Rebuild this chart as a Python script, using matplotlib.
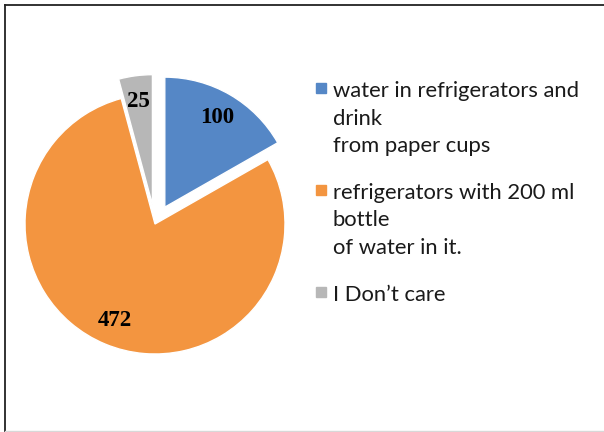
import matplotlib
matplotlib.use('Agg')
import matplotlib.pyplot as plt
from matplotlib.lines import Line2D

# data
labels = [
    'water in refrigerators and\ndrink\nfrom paper cups',
    'refrigerators with 200 ml\nbottle\nof water in it.',
    'I Don\u2019t care',
]
values = [100, 472, 25]
colors = ['#5587C6', '#F39540', '#B7B7B7']
explode = [0.15, 0.0, 0.15]

W, H = 604, 432
fig = plt.figure(figsize=(W / 100, H / 100), dpi=100)

# axes covering the whole figure; 1 data unit = 130 px, pie centre at (155, 224) px
ax = fig.add_axes([0, 0, 1, 1])
R = 130.0
cx, cy = 155.0, 224.0

wedges, texts, autotexts = ax.pie(
    values, colors=colors, explode=explode, startangle=90, counterclock=False,
    autopct=lambda p: f'{p * sum(values) / 100:.0f}', pctdistance=0.8,
    wedgeprops={'edgecolor': 'white', 'linewidth': 1},
    textprops={'fontsize': 16.5, 'fontweight': 'bold',
               'family': 'Liberation Serif', 'color': 'black'},
)
ax.set_xlim(-cx / R, (W - cx) / R)
ax.set_ylim(-(H - cy) / R, cy / R)
ax.set_aspect('equal')
ax.axis('off')

# legend, drawn by hand so the marker sits at the first line of each entry
def fx(px):
    return px / W


def fy(py):
    return 1 - py / H


entry_base = [97, 198.8, 300.6]   # first-line baseline, px from top
line_step = 27.6
for lab, col, y0 in zip(labels, colors, entry_base):
    fig.add_artist(Line2D([fx(321.3)], [fy(y0 - 8.8)], marker='s', ls='none',
                          markersize=6.6, markerfacecolor=col, markeredgecolor=col))
    for j, line in enumerate(lab.split('\n')):
        fig.text(fx(333), fy(y0 + j * line_step), line, ha='left', va='baseline',
                 family='Lato', fontsize=15.8, color='#1a1a1a')

# frame lines around the chart area
fig.add_artist(Line2D([4.5 / W, 1], [1 - 4.5 / H, 1 - 4.5 / H], color='#222222', lw=1.3))
fig.add_artist(Line2D([4.5 / W, 4.5 / W], [0, 1 - 4.5 / H], color='#222222', lw=1.3))
fig.add_artist(Line2D([4.5 / W, 1], [1.5 / H, 1.5 / H], color='#d8d8d8', lw=1.0))

fig.savefig('out.png', dpi=100)
